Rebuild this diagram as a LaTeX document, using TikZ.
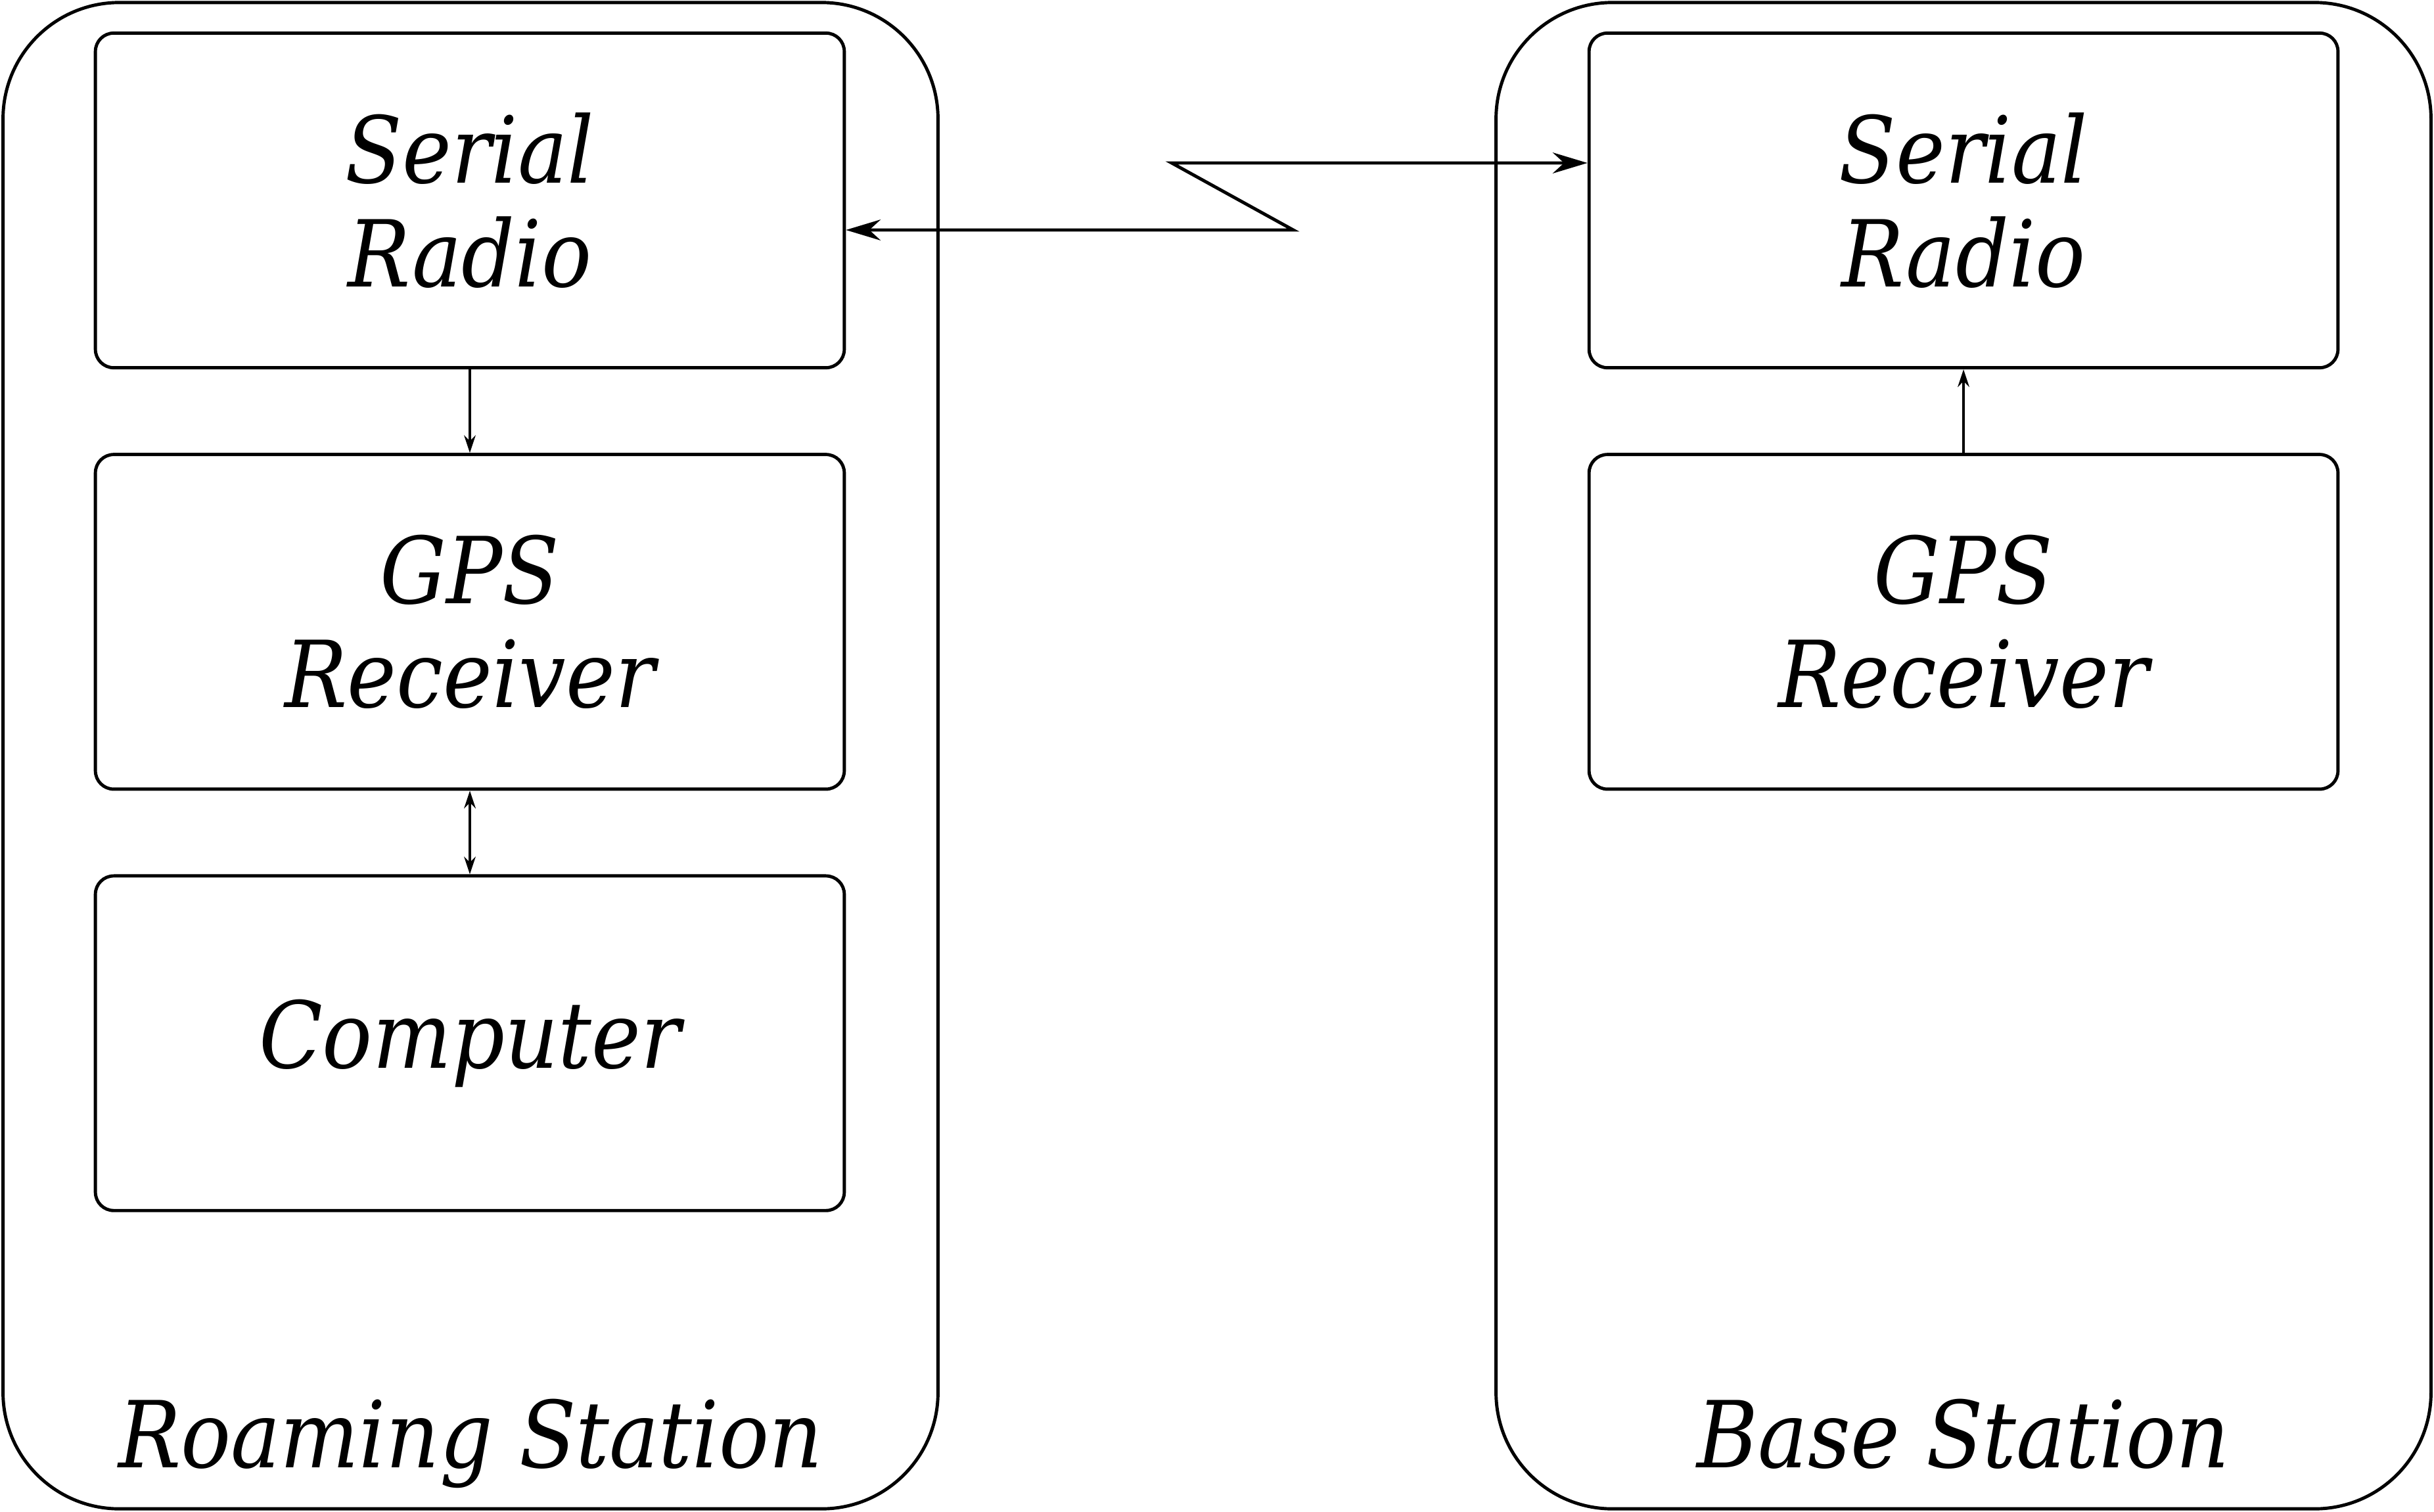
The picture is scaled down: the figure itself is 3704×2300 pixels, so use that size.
\documentclass[tikz,border=0pt]{standalone}
\usepackage{fontspec}
\setmainfont{DejaVu Serif Condensed}
\usetikzlibrary{positioning,arrows.meta}
\begin{document}
\begin{tikzpicture}[x=0.01cm, y=-0.01cm, node distance={1.27cm}, line width=1.4pt,
    station/.style = {draw, rounded corners=1.77cm, minimum width=14.22cm, minimum height=22.91cm},
    unit/.style = {draw, rounded corners=0.28cm, minimum width=11.39cm, minimum height=5.09cm, align=center, font=\itshape\fontsize{40}{45}\selectfont},
    caption/.style = {anchor=base, font=\itshape\fontsize{40}{45}\selectfont},
    link/.style = {-{Stealth[length=7.6pt, width=5pt]}, line width=1.1pt},
    twolink/.style = {{Stealth[length=7.6pt, width=5pt]}-{Stealth[length=7.6pt, width=5pt]}, line width=1.1pt},
    radio/.style = {{Stealth[length=15pt, width=9pt]}-{Stealth[length=15pt, width=9pt]}, line width=1.4pt}]
    \useasboundingbox (0,0) rectangle (3704,2300);

    % roaming station
    \node[station] (roam) at (716,1150) {};
    \node[unit] (rradio) at (715,305) {Serial\\Radio};
    \node[unit] (rgps) [below=of rradio] {GPS\\Receiver};
    \node[unit] (rcomp) [below=of rgps] {Computer};
    \node[caption] (rlabel) at (716,2233) {Roaming Station};

    % base station
    \node[station] (base) at (2988,1150) {};
    \node[unit] (bradio) at (2988,305) {Serial\\Radio};
    \node[unit] (bgps) [below=of bradio] {GPS\\Receiver};
    \node[caption] (blabel) at (2988,2233) {Base Station};

    \draw[link] (rradio) -- (rgps);
    \draw[twolink] (rgps) -- (rcomp);
    \draw[link] (bgps) -- (bradio);

    % radio link
    \coordinate (zigA) at (1968,350);
    \coordinate (zigB) at (1783,248);
    \draw[radio] (rradio.east |- zigA) -- (zigA) -- (zigB) -- (bradio.west |- zigB);
\end{tikzpicture}
\end{document}
